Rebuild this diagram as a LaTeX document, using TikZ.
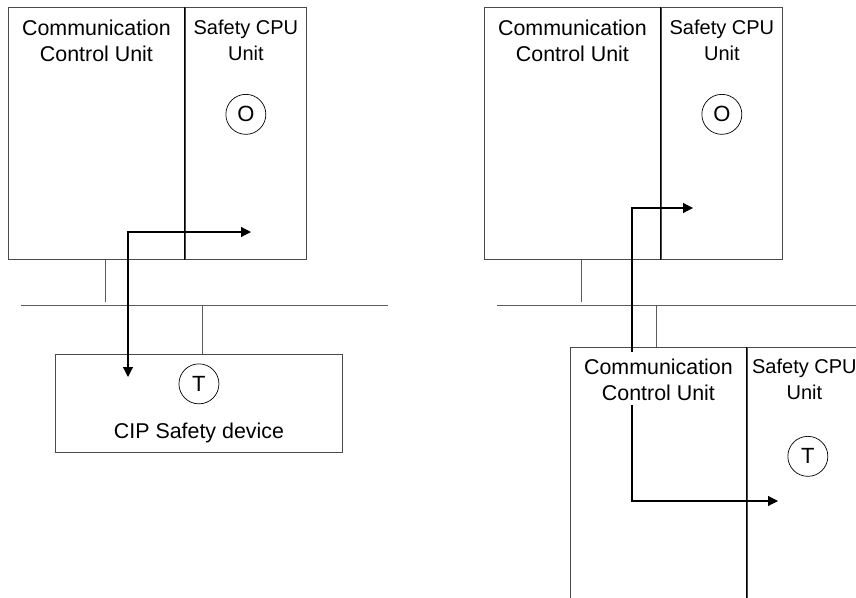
\documentclass[tikz,border=0pt]{standalone}
\usepackage{fontspec}
\setmainfont{Liberation Sans}
\usetikzlibrary{arrows.meta,positioning}
\usepackage{xcolor}
\definecolor{LineGray}{HTML}{4A4A4A}
\definecolor{WireGray}{HTML}{5C5C5C}

\begin{document}
\begin{tikzpicture}[
    x=1pt, y=-1pt,
    unitbox/.style={draw=LineGray, line width=0.9pt, inner sep=0pt,
                    minimum height=252pt, anchor=north west},
    ccubox/.style={unitbox, minimum width=176pt},
    cpubox/.style={unitbox, minimum width=121pt},
    devbox/.style={draw=LineGray, line width=0.9pt, inner sep=0pt,
                   minimum width=287pt, minimum height=98pt, anchor=north west},
    lbl/.style={align=center, inner sep=0pt, font=\fontsize{21.4}{25.5}\selectfont},
    cpulbl/.style={align=center, inner sep=0pt, font=\fontsize{20}{25.5}\selectfont},
    port/.style={circle, draw=black, line width=0.7pt, minimum size=40pt,
                 inner sep=0pt, font=\fontsize{22}{26}\selectfont},
    divider/.style={draw=black, line width=0.9pt},
    wire/.style={draw=WireGray, line width=0.9pt},
    flow/.style={draw=black, line width=1.2pt,
                 -{Triangle[length=10pt,width=10pt]}},
    node distance=13pt
  ]
    \useasboundingbox (0,0) rectangle (856,597);
    \clip (0,0) rectangle (856,597);

    % left: originator and CIP Safety device
    \node[ccubox] (ccuA) at (8,7) {};
    \node[cpubox] (cpuA) at (ccuA.north east) {};
    \draw[divider] (cpuA.north west) -- (cpuA.south west);
    \node[lbl, below=of ccuA.north, anchor=north] (ccuAtxt) {Communication\\Control Unit};
    \node[cpulbl, below=of cpuA.north, anchor=north] (cpuAtxt) {Safety CPU\\Unit};
    \node[port, below=87pt of cpuA.north] (oA) {O};

    \coordinate (busAw) at (21,305);
    \coordinate (busAe) at (388,305);
    \draw[wire] (busAw) -- (busAe);
    \coordinate (dropA) at (105,302);
    \draw[wire] (dropA |- ccuA.south) -- (dropA);

    \node[devbox] (dev) at (55,354) {};
    \coordinate (tapA) at (202,305);
    \draw[wire] (tapA) -- (tapA |- dev.north);
    \node[port, below=9.5pt of dev.north] (tA) {T};
    \node[lbl, anchor=base] (devtxt) at (dev.center |- 0,438) {CIP Safety device};

    \coordinate (outA) at (128,377);
    \coordinate (inA) at (251,232);
    \draw[flow, {Triangle[length=10pt,width=10pt]}-{Triangle[length=10pt,width=10pt]}] (outA) |- (inA);

    % right: originator and target with Safety CPU Unit
    \node[ccubox] (ccuB) at (484,7) {};
    \node[cpubox] (cpuB) at (ccuB.north east) {};
    \draw[divider] (cpuB.north west) -- (cpuB.south west);
    \node[lbl, below=of ccuB.north, anchor=north] (ccuBtxt) {Communication\\Control Unit};
    \node[cpulbl, below=of cpuB.north, anchor=north] (cpuBtxt) {Safety CPU\\Unit};
    \node[port, below=87pt of cpuB.north] (oB) {O};

    \coordinate (busBw) at (497,305);
    \coordinate (busBe) at (870,305);
    \draw[wire] (busBw) -- (busBe);
    \coordinate (dropB) at (581,302);
    \draw[wire] (dropB |- ccuB.south) -- (dropB);

    \node[ccubox] (ccuC) at (570,347) {};
    \node[cpubox] (cpuC) at (ccuC.north east) {};
    \draw[divider] (cpuC.north west) -- (cpuC.south west);
    \node[lbl, below=12pt of ccuC.north, anchor=north] (ccuCtxt) {Communication\\Control Unit};
    \node[cpulbl, below=12pt of cpuC.north, anchor=north, xshift=-3.5pt] (cpuCtxt) {Safety CPU\\Unit};
    \node[port, below=89pt of cpuC.north] (tC) {T};

    \coordinate (tapB) at (656,305);
    \draw[wire] (tapB) -- (tapB |- ccuC.north);

    \coordinate (outB) at (632,352);
    \coordinate (inB) at (693,208);
    \draw[flow] (outB) |- (inB);
    \coordinate (outC) at (632,405);
    \coordinate (inC) at (778,501);
    \draw[flow] (outC) |- (inC);
\end{tikzpicture}
\end{document}
